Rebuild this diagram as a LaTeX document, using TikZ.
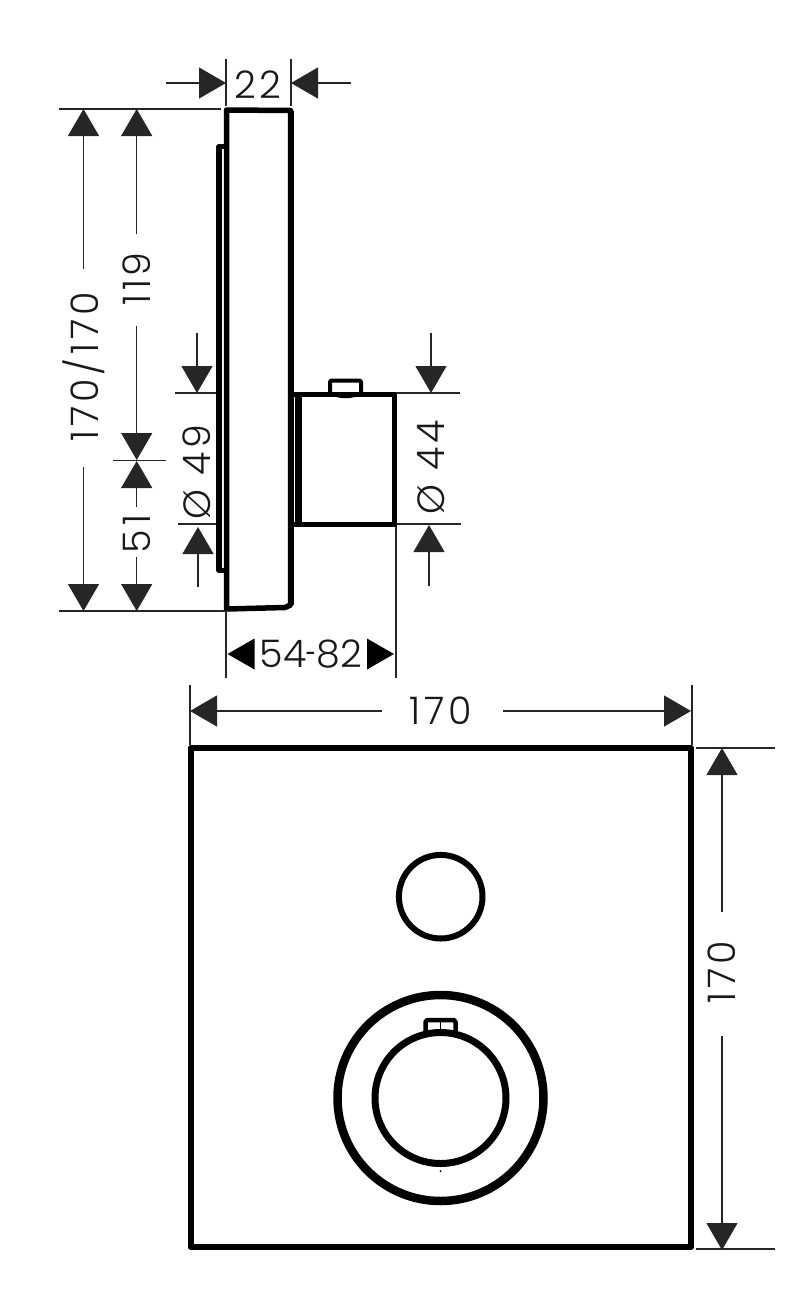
\documentclass[tikz,border=0pt]{standalone}
\usepackage{fontspec}
\setmainfont{Poppins}[UprightFont=*-Light]
\newfontfamily\spaced{Poppins}[UprightFont=*-Light,LetterSpace=10]
\usetikzlibrary{arrows.meta}
\tikzset{
  dimline/.style={line width=1.2pt,draw=black!85},
  dimarrow/.style={dimline,-{Triangle[length=27pt,width=31pt]},shorten >=0pt},
  thick5/.style={line width=5.5pt,line join=round,line cap=round,draw=black},
  lbl/.style={font=\fontsize{38}{38}\selectfont\spaced,inner sep=0pt,text=black!90},
  lblv/.style={lbl,rotate=90},
  lbltight/.style={font=\fontsize{38}{38}\selectfont,inner sep=0pt,text=black!90}
}
\begin{document}
\begin{tikzpicture}[x=1pt,y=-1pt]
\useasboundingbox (0,0) rectangle (806,1310);
% side view
\draw[thick5] (226.5,110) -- (290.5,110.5) -- (290.5,605) -- (285,607.5) -- (226.5,609) -- cycle;
\draw[line width=6pt,draw=black] (290.5,111) -- (290.5,605);
\draw[line width=5.5pt,line join=round] (224,146.5) -- (219.2,146.5) -- (219.2,570.5) -- (224,570.5);
% body
\draw[line width=5pt] (293,394.5) -- (394.5,394.5) -- (394.5,524.5) -- (293,524.5);
\draw[line width=7pt] (298.5,392) -- (298.5,527);
\draw[line width=4pt,line join=round] (330,396) -- (330,382) -- (331,380.5) -- (360,380.5) -- (361,382) -- (361,396);
\draw[line width=3pt] (330,393) .. controls (340,398) and (351,398) .. (361,393);
% dim 22
\draw[dimline] (226,59) -- (226,106);
\draw[dimline] (291,59) -- (291,106);
\coordinate (a22l) at (226,83); \coordinate (a22r) at (291,83);
\draw[dimarrow] (166,83) -- (a22l);
\draw[dimarrow] (351,83) -- (a22r);
\node[lbl] (t22) at (258,85) {22};
% extension lines
\draw[dimline] (59,109) -- (221,109);
\draw[dimline] (59,611) -- (226,611);
\draw[dimline] (113,460.5) -- (166,460.5);
% 170/170
\draw[dimarrow] (83.5,269) -- (83.5,109);
\draw[dimarrow] (83.5,467) -- (83.5,611);
\node[lblv] (t170a) at (84,367) {170/170};
% 119
\draw[dimarrow] (136.7,234) -- (136.7,109);
\draw[dimarrow] (136.7,326) -- (136.7,460);
\node[lblv] (t119) at (137,279) {119};
% 51
\draw[dimarrow] (136.7,507) -- (136.7,461);
\draw[dimarrow] (136.7,557) -- (136.7,611);
\node[lblv] (t51) at (137,534) {51};
% dia 49
\draw[dimline] (175,393) -- (216,393);
\draw[dimline] (178,524) -- (216,524);
\draw[dimarrow] (197,333) -- (197,393);
\draw[dimarrow] (198,587) -- (198,527);
\node[lblv] (t49) at (197,472) {Ø 49};
% dia 44
\draw[dimline] (396,393) -- (460,393);
\draw[dimline] (396,524) -- (461,524);
\draw[dimarrow] (431,333) -- (431,393);
\draw[dimarrow] (429,586) -- (429,525);
\node[lblv] (t44) at (431,467) {Ø 44};
% 54-82
\draw[dimline] (226,612) -- (226,678);
\draw[dimline] (396,527) -- (396,678);
\fill[black] (227.5,654) -- (254.5,638.5) -- (254.5,669.5) -- cycle;
\fill[black] (394,654) -- (367,638.5) -- (367,669.5) -- cycle;
\node[lbltight] (t5482) at (311,654) {54\scalebox{.5}[1]{-}82};
% front view
\draw[line width=6pt,line join=round,draw=black] (190.5,748) rectangle (691,1247);
\draw[dimline] (190,685) -- (190,745);
\draw[dimline] (692,685) -- (692,745);
\draw[dimarrow] (382,711) -- (190,711);
\draw[dimarrow] (503,711) -- (691,711);
\node[lbl] (t170b) at (441,711) {170};
\draw[dimline] (696,748) -- (775,748);
\draw[dimline] (696,1249) -- (775,1249);
\draw[dimarrow] (722,912) -- (722,748);
\draw[dimarrow] (722,1036) -- (722,1250);
\node[lblv] (t170c) at (722,972) {170};
% circles
\draw[line width=6pt] (440.7,896.7) circle[radius=41.8];
\draw[line width=8.5pt] (440.5,1098) circle[radius=103];
\draw[line width=7pt] (440.5,1098) circle[radius=65.5];
\draw[line width=4.5pt,line join=round] (425.5,1033) -- (425.5,1022) -- (427,1020) -- (454,1020) -- (455.5,1022) -- (455.5,1033);
\draw[line width=1pt] (440.5,1020) -- (440.5,1036);
\draw[line width=1pt] (427,1030) -- (454,1030);
\fill (440.5,1171) circle[radius=1];
\end{tikzpicture}
\end{document}
